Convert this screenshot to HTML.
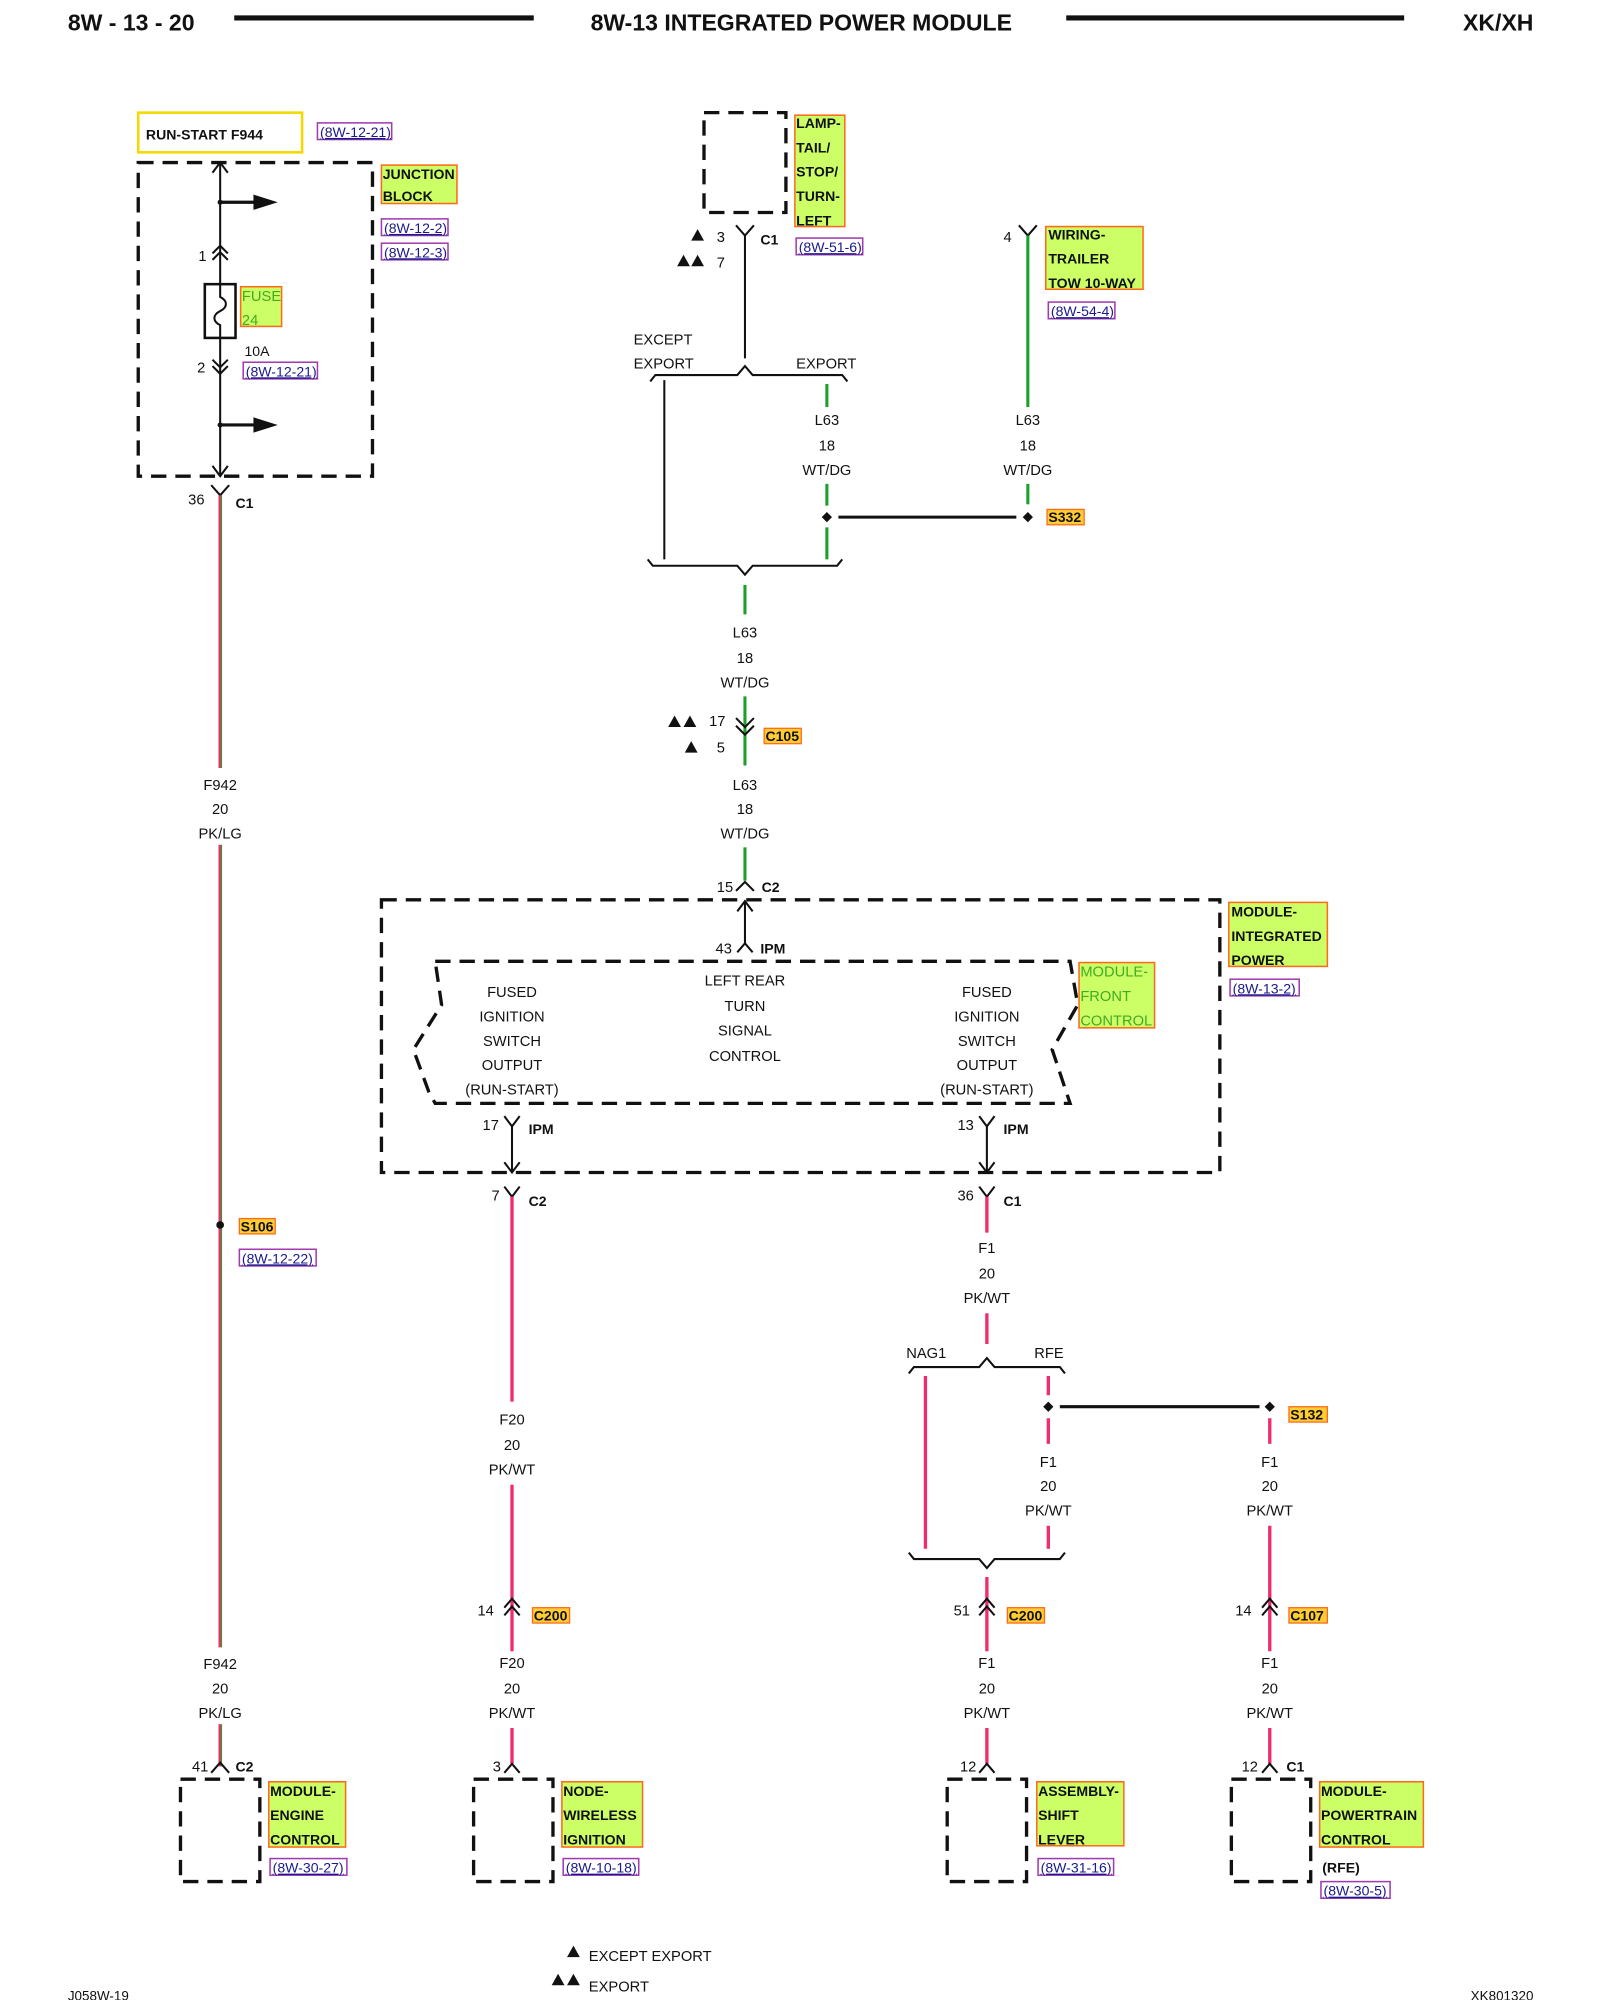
<!DOCTYPE html>
<html><head><meta charset="utf-8"><style>
html,body{margin:0;padding:0;background:#fff}
svg{display:block}
text{font-family:"Liberation Sans",Arial,sans-serif;font-size:11.5px;fill:#111}
.b{font-weight:bold}
.c{text-anchor:middle}
.h{font-size:18px;font-weight:bold}
.gl{font-size:11px;font-weight:bold}
.ref{font-size:11px;fill:#1a1a8c;text-decoration:underline}
.d{fill:none;stroke:#111;stroke-width:2.6;stroke-dasharray:12 7}
.k{fill:none;stroke:#111;stroke-width:1.6}
.pk{stroke:#ee2d6a;stroke-width:2.6;fill:none}
.gr{stroke:#1e9e2a;stroke-width:2.4;fill:none}
.lb{fill:#ccff66;stroke:#ff6a1a;stroke-width:1.2}
.sp{fill:#ffcc33;stroke:#ff6a1a;stroke-width:1}
.rb{fill:none;stroke:#a03cb0;stroke-width:1.2}
.wb{fill:#fff}
</style></head><body>
<svg width="1600" height="2000" viewBox="0 0 1250 1562.5" xmlns="http://www.w3.org/2000/svg">
<!-- header -->
<text x="53" y="24" class="h">8W - 13 - 20</text>
<line x1="183" y1="14" x2="417" y2="14" stroke="#111" stroke-width="4"/>
<text x="626" y="24" class="h c">8W-13 INTEGRATED POWER MODULE</text>
<line x1="833" y1="14" x2="1097" y2="14" stroke="#111" stroke-width="4"/>
<text x="1198" y="24" class="h" text-anchor="end">XK/XH</text>

<!-- LEFT: junction block -->
<rect x="108" y="88" width="128" height="31" fill="none" stroke="#f5d800" stroke-width="2"/>
<text x="114" y="109" class="gl">RUN-START F944</text>
<rect x="248" y="96" width="58" height="13" class="rb"/><text x="250" y="107" class="ref">(8W-12-21)</text>
<rect x="108" y="127" width="183" height="245" class="d"/>
<rect x="298" y="129" width="59" height="30" class="lb"/>
<text x="299" y="140" class="gl">JUNCTION</text><text x="299" y="157" class="gl">BLOCK</text>
<rect x="298" y="171" width="52" height="13" class="rb"/><text x="300" y="182" class="ref">(8W-12-2)</text>
<rect x="298" y="190" width="52" height="13" class="rb"/><text x="300" y="201" class="ref">(8W-12-3)</text>
<line x1="172" y1="127" x2="172" y2="222" class="k"/>
<polyline points="166,135 172,127 178,135" class="k"/>
<line x1="172" y1="158" x2="200" y2="158" stroke="#111" stroke-width="2.5"/>
<polygon points="198,152 217,158 198,164" fill="#111"/>
<circle cx="172" cy="158" r="2" fill="#111"/>
<polyline points="166,198 172,192 178,198" class="k"/><polyline points="166,203 172,197 178,203" class="k"/>
<text x="155" y="204">1</text>
<rect x="160" y="222" width="24" height="42" fill="none" stroke="#111" stroke-width="2"/>
<path d="M172,222 v10 c6,3 6,8 0,11 c-6,3 -6,8 0,11 v10" class="k"/>
<rect x="188" y="224" width="32" height="31" class="lb"/>
<text x="189" y="235" fill="#3a9a1a" style="fill:#44aa22">FUSE</text><text x="189" y="254" style="fill:#44aa22">24</text>
<text x="191" y="278" style="font-size:11px">10A</text>
<rect x="190" y="283" width="58" height="13" class="rb"/><text x="192" y="294" class="ref">(8W-12-21)</text>
<line x1="172" y1="264" x2="172" y2="372" class="k"/>
<polyline points="166,281 172,287 178,281" class="k"/><polyline points="166,286 172,292 178,286" class="k"/>
<text x="154" y="291">2</text>
<line x1="172" y1="332" x2="200" y2="332" stroke="#111" stroke-width="2.5"/>
<polygon points="198,326 217,332 198,338" fill="#111"/>
<circle cx="172" cy="332" r="2" fill="#111"/>
<polyline points="166,364 172,372 178,364" class="k"/>
<!-- F942 wire -->
<polyline points="165,379 172,387 179,379" class="k"/>
<text x="147" y="394">36</text><text x="184" y="397" class="gl">C1</text>
<line x1="172" y1="387" x2="172" y2="1380" class="pk"/>
<line x1="173" y1="387" x2="173" y2="1380" stroke="#2aa02a" stroke-width="1"/>
<rect x="150" y="600" width="44" height="60" class="wb"/>
<text x="172" y="617" class="c">F942</text><text x="172" y="636" class="c">20</text><text x="172" y="655" class="c">PK/LG</text>
<circle cx="172" cy="957" r="3" fill="#111"/>
<rect x="187" y="952" width="28" height="12" class="sp"/><text x="188" y="962" class="gl">S106</text>
<rect x="187" y="976" width="60" height="13" class="rb"/><text x="189" y="987" class="ref">(8W-12-22)</text>
<rect x="150" y="1287" width="44" height="60" class="wb"/>
<text x="172" y="1304" class="c">F942</text><text x="172" y="1323" class="c">20</text><text x="172" y="1342" class="c">PK/LG</text>
<polyline points="165,1385 172,1377 179,1385" class="k"/>
<text x="150" y="1384">41</text><text x="184" y="1384" class="gl">C2</text>
<rect x="141" y="1390" width="62" height="80" class="d"/>
<rect x="210" y="1392" width="60" height="51" class="lb"/>
<text x="211" y="1403" class="gl">MODULE-</text><text x="211" y="1422" class="gl">ENGINE</text><text x="211" y="1441" class="gl">CONTROL</text>
<rect x="211" y="1452" width="60" height="13" class="rb"/><text x="213" y="1463" class="ref">(8W-30-27)</text>

<!-- TOP CENTER -->
<rect x="550" y="88" width="64" height="78" class="d"/>
<rect x="621" y="90" width="39" height="87" class="lb"/>
<text x="622" y="100" class="gl">LAMP-</text><text x="622" y="119" class="gl">TAIL/</text><text x="622" y="138" class="gl">STOP/</text><text x="622" y="157" class="gl">TURN-</text><text x="622" y="176" class="gl">LEFT</text>
<rect x="622" y="186" width="52" height="13" class="rb"/><text x="624" y="197" class="ref">(8W-51-6)</text>
<polygon points="540,188 545,179 550,188" fill="#111"/><text x="560" y="189">3</text>
<polygon points="529,208 534,199 539,208" fill="#111"/><polygon points="540,208 545,199 550,208" fill="#111"/><text x="560" y="209">7</text>
<polyline points="575,176 582,184 589,176" class="k"/>
<text x="594" y="191" class="gl">C1</text>
<line x1="582" y1="184" x2="582" y2="280" class="k"/>
<text x="495" y="269">EXCEPT</text><text x="495" y="288">EXPORT</text><text x="622" y="288">EXPORT</text>
<path d="M508,298 l4,-5 h64 l6,-7 l6,7 h70 l4,5" class="k"/>
<line x1="519" y1="297" x2="519" y2="437" class="k"/>
<line x1="646" y1="300" x2="646" y2="318" class="gr"/>
<text x="646" y="332" class="c">L63</text><text x="646" y="352" class="c">18</text><text x="646" y="371" class="c">WT/DG</text>
<line x1="646" y1="378" x2="646" y2="395" class="gr"/>
<line x1="646" y1="412" x2="646" y2="437" class="gr"/>
<path d="M646,400 l4,4 l-4,4 l-4,-4z" fill="#111"/>
<line x1="655" y1="404" x2="794" y2="404" stroke="#111" stroke-width="2.4"/>
<path d="M803,400 l4,4 l-4,4 l-4,-4z" fill="#111"/>
<rect x="818" y="398" width="29" height="12" class="sp"/><text x="819" y="408" class="gl">S332</text>
<polyline points="796,176 803,184 810,176" class="k"/><text x="784" y="189">4</text>
<line x1="803" y1="184" x2="803" y2="318" class="gr"/>
<text x="803" y="332" class="c">L63</text><text x="803" y="352" class="c">18</text><text x="803" y="371" class="c">WT/DG</text>
<line x1="803" y1="378" x2="803" y2="394" class="gr"/>
<rect x="817" y="177" width="76" height="49" class="lb"/>
<text x="819" y="187" class="gl">WIRING-</text><text x="819" y="206" class="gl">TRAILER</text><text x="819" y="225" class="gl">TOW 10-WAY</text>
<rect x="819" y="236" width="52" height="13" class="rb"/><text x="821" y="247" class="ref">(8W-54-4)</text>
<path d="M506,437 l4,5 h66 l6,7 l6,-7 h66 l4,-5" class="k"/>
<line x1="582" y1="457" x2="582" y2="480" class="gr"/>
<text x="582" y="498" class="c">L63</text><text x="582" y="518" class="c">18</text><text x="582" y="537" class="c">WT/DG</text>
<line x1="582" y1="544" x2="582" y2="598" class="gr"/>
<polyline points="575,561 582,568 589,561" class="k"/><polyline points="575,567 582,574 589,567" class="k"/>
<polygon points="522,568 527,559 532,568" fill="#111"/><polygon points="534,568 539,559 544,568" fill="#111"/><text x="554" y="567">17</text>
<polygon points="535,588 540,579 545,588" fill="#111"/><text x="560" y="588">5</text>
<rect x="597" y="569" width="29" height="12" class="sp"/><text x="598" y="579" class="gl">C105</text>
<text x="582" y="617" class="c">L63</text><text x="582" y="636" class="c">18</text><text x="582" y="655" class="c">WT/DG</text>
<line x1="582" y1="662" x2="582" y2="688" class="gr"/>
<polyline points="575,696 582,689 589,696" class="k"/>
<text x="560" y="697">15</text><text x="595" y="697" class="gl">C2</text>

<!-- IPM -->
<rect x="298" y="703" width="655" height="213" class="d"/>
<rect x="960" y="705" width="77" height="50" class="lb"/>
<text x="962" y="716" class="gl">MODULE-</text><text x="962" y="735" class="gl">INTEGRATED</text><text x="962" y="754" class="gl">POWER</text>
<rect x="961" y="765" width="54" height="13" class="rb"/><text x="963" y="776" class="ref">(8W-13-2)</text>
<line x1="582" y1="704" x2="582" y2="737" class="k"/>
<polyline points="576,712 582,704 588,712" class="k"/>
<polyline points="576,744 582,737 588,744" class="k"/>
<text x="559" y="745">43</text><text x="594" y="745" class="gl">IPM</text>
<path d="M340,751 H836 L842,785 L822,820 L836,862 H340 L335,853 L323,820 L345,785 Z" class="d" stroke-width="2.2"/>
<rect x="843" y="752" width="59" height="51" class="lb"/>
<text x="844" y="763" style="fill:#44aa22">MODULE-</text><text x="844" y="782" style="fill:#44aa22">FRONT</text><text x="844" y="801" style="fill:#44aa22">CONTROL</text>
<g class="c">
<text x="400" y="779" class="c">FUSED</text><text x="400" y="798" class="c">IGNITION</text><text x="400" y="817" class="c">SWITCH</text><text x="400" y="836" class="c">OUTPUT</text><text x="400" y="855" class="c">(RUN-START)</text>
<text x="582" y="770" class="c">LEFT REAR</text><text x="582" y="790" class="c">TURN</text><text x="582" y="809" class="c">SIGNAL</text><text x="582" y="829" class="c">CONTROL</text>
<text x="771" y="779" class="c">FUSED</text><text x="771" y="798" class="c">IGNITION</text><text x="771" y="817" class="c">SWITCH</text><text x="771" y="836" class="c">OUTPUT</text><text x="771" y="855" class="c">(RUN-START)</text>
</g>
<polyline points="394,872 400,880 406,872" class="k"/><line x1="400" y1="880" x2="400" y2="916" class="k"/>
<polyline points="394,908 400,916 406,908" class="k"/>
<text x="377" y="883">17</text><text x="413" y="886" class="gl">IPM</text>
<polyline points="765,872 771,880 777,872" class="k"/><line x1="771" y1="880" x2="771" y2="916" class="k"/>
<polyline points="765,908 771,916 777,908" class="k"/>
<text x="748" y="883">13</text><text x="784" y="886" class="gl">IPM</text>

<!-- F20 column -->
<polyline points="394,927 400,935 406,927" class="k"/>
<text x="384" y="938">7</text><text x="413" y="942" class="gl">C2</text>
<line x1="400" y1="935" x2="400" y2="1095" class="pk"/>
<text x="400" y="1113" class="c">F20</text><text x="400" y="1133" class="c">20</text><text x="400" y="1152" class="c">PK/WT</text>
<line x1="400" y1="1160" x2="400" y2="1290" class="pk"/>
<polyline points="394,1256 400,1249 406,1256" class="k"/><polyline points="394,1262 400,1255 406,1262" class="k"/>
<text x="373" y="1262">14</text>
<rect x="416" y="1256" width="29" height="12" class="sp"/><text x="417" y="1266" class="gl">C200</text>
<text x="400" y="1303" class="c">F20</text><text x="400" y="1323" class="c">20</text><text x="400" y="1342" class="c">PK/WT</text>
<line x1="400" y1="1350" x2="400" y2="1378" class="pk"/>
<polyline points="394,1385 400,1378 406,1385" class="k"/><text x="385" y="1384">3</text>
<rect x="370" y="1390" width="62" height="80" class="d"/>
<rect x="439" y="1392" width="63" height="51" class="lb"/>
<text x="440" y="1403" class="gl">NODE-</text><text x="440" y="1422" class="gl">WIRELESS</text><text x="440" y="1441" class="gl">IGNITION</text>
<rect x="440" y="1452" width="59" height="13" class="rb"/><text x="442" y="1463" class="ref">(8W-10-18)</text>

<!-- F1 column -->
<polyline points="765,927 771,935 777,927" class="k"/>
<text x="748" y="938">36</text><text x="784" y="942" class="gl">C1</text>
<line x1="771" y1="935" x2="771" y2="963" class="pk"/>
<text x="771" y="979" class="c">F1</text><text x="771" y="999" class="c">20</text><text x="771" y="1018" class="c">PK/WT</text>
<line x1="771" y1="1026" x2="771" y2="1050" class="pk"/>
<text x="708" y="1061">NAG1</text><text x="808" y="1061">RFE</text>
<path d="M710,1073 l4,-5 h51 l6,-7 l6,7 h51 l4,5" class="k"/>
<line x1="723" y1="1075" x2="723" y2="1210" class="pk"/>
<line x1="819" y1="1075" x2="819" y2="1090" class="pk"/>
<path d="M819,1095 l4,4 l-4,4 l-4,-4z" fill="#111"/>
<line x1="828" y1="1099" x2="984" y2="1099" stroke="#111" stroke-width="2.4"/>
<path d="M992,1095 l4,4 l-4,4 l-4,-4z" fill="#111"/>
<rect x="1007" y="1099" width="30" height="12" class="sp"/><text x="1008" y="1109" class="gl">S132</text>
<line x1="819" y1="1108" x2="819" y2="1128" class="pk"/>
<text x="819" y="1146" class="c">F1</text><text x="819" y="1165" class="c">20</text><text x="819" y="1184" class="c">PK/WT</text>
<line x1="819" y1="1192" x2="819" y2="1210" class="pk"/>
<path d="M710,1213 l4,5 h51 l6,7 l6,-7 h51 l4,-5" class="k"/>
<line x1="771" y1="1232" x2="771" y2="1290" class="pk"/>
<polyline points="765,1256 771,1249 777,1256" class="k"/><polyline points="765,1262 771,1255 777,1262" class="k"/>
<text x="745" y="1262">51</text>
<rect x="787" y="1256" width="29" height="12" class="sp"/><text x="788" y="1266" class="gl">C200</text>
<text x="771" y="1303" class="c">F1</text><text x="771" y="1323" class="c">20</text><text x="771" y="1342" class="c">PK/WT</text>
<line x1="771" y1="1350" x2="771" y2="1378" class="pk"/>
<polyline points="765,1385 771,1378 777,1385" class="k"/><text x="750" y="1384">12</text>
<rect x="740" y="1390" width="62" height="80" class="d"/>
<rect x="810" y="1392" width="68" height="50" class="lb"/>
<text x="811" y="1403" class="gl">ASSEMBLY-</text><text x="811" y="1422" class="gl">SHIFT</text><text x="811" y="1441" class="gl">LEVER</text>
<rect x="811" y="1452" width="59" height="13" class="rb"/><text x="813" y="1463" class="ref">(8W-31-16)</text>

<!-- RFE column -->
<line x1="992" y1="1108" x2="992" y2="1128" class="pk"/>
<text x="992" y="1146" class="c">F1</text><text x="992" y="1165" class="c">20</text><text x="992" y="1184" class="c">PK/WT</text>
<line x1="992" y1="1192" x2="992" y2="1290" class="pk"/>
<polyline points="986,1256 992,1249 998,1256" class="k"/><polyline points="986,1262 992,1255 998,1262" class="k"/>
<text x="965" y="1262">14</text>
<rect x="1007" y="1256" width="30" height="12" class="sp"/><text x="1008" y="1266" class="gl">C107</text>
<text x="992" y="1303" class="c">F1</text><text x="992" y="1323" class="c">20</text><text x="992" y="1342" class="c">PK/WT</text>
<line x1="992" y1="1350" x2="992" y2="1378" class="pk"/>
<polyline points="986,1385 992,1378 998,1385" class="k"/><text x="970" y="1384">12</text><text x="1005" y="1384" class="gl">C1</text>
<rect x="962" y="1390" width="62" height="80" class="d"/>
<rect x="1031" y="1392" width="81" height="51" class="lb"/>
<text x="1032" y="1403" class="gl">MODULE-</text><text x="1032" y="1422" class="gl">POWERTRAIN</text><text x="1032" y="1441" class="gl">CONTROL</text>
<text x="1033" y="1463" class="gl">(RFE)</text>
<rect x="1032" y="1470" width="54" height="13" class="rb"/><text x="1034" y="1481" class="ref">(8W-30-5)</text>

<!-- legend / footer -->
<polygon points="443,1529 448,1520 453,1529" fill="#111"/><text x="460" y="1532">EXCEPT EXPORT</text>
<polygon points="431,1551 436,1542 441,1551" fill="#111"/><polygon points="443,1551 448,1542 453,1551" fill="#111"/><text x="460" y="1556">EXPORT</text>
<text x="53" y="1563" style="font-size:10.5px">J058W-19</text>
<text x="1198" y="1563" style="font-size:10.5px" text-anchor="end">XK801320</text>
</svg>
</body></html>
